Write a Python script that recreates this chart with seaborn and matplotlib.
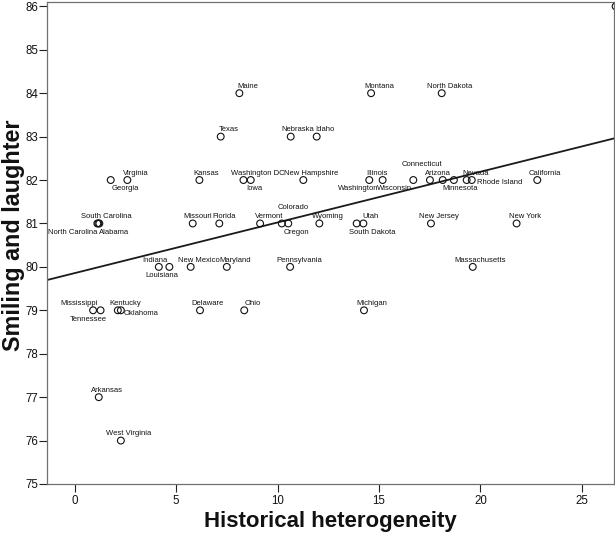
import matplotlib
matplotlib.use("Agg")
import matplotlib.pyplot as plt
import seaborn as sns
import pandas as pd

# ---------------- data ----------------
states = [
    "Maine", "Montana", "North Dakota",
    "Texas", "Nebraska", "Idaho",
    "Georgia", "Virginia", "Kansas", "Washington DC", "Iowa", "New Hampshire",
    "Washington", "Illinois", "Wisconsin", "Connecticut", "Arizona", "Minnesota",
    "Nevada", "Rhode Island", "California",
    "North Carolina", "South Carolina", "Alabama", "Missouri", "Florida", "Vermont",
    "Colorado", "Oregon", "Wyoming", "South Dakota", "Utah", "New Jersey", "New York",
    "Indiana", "Louisiana", "New Mexico", "Maryland", "Pennsylvania", "Massachusetts",
    "Mississippi", "Tennessee", "Kentucky", "Oklahoma", "Delaware", "Ohio", "Michigan",
    "Arkansas", "West Virginia",
]
heterogeneity = [
    8.12, 14.61, 18.09,
    7.20, 10.65, 11.93,
    1.78, 2.60, 6.15, 8.32, 8.68, 11.27,
    14.52, 15.18, 16.69, 17.51, 18.14, 18.69,
    19.32, 19.57, 22.80,
    1.12, 1.17, 1.22, 5.82, 7.13, 9.14,
    10.21, 10.53, 12.06, 13.90, 14.23, 17.56, 21.78,
    4.15, 4.67, 5.72, 7.50, 10.62, 19.62,
    0.91, 1.28, 2.13, 2.28, 6.18, 8.36, 14.26,
    1.19, 2.28,
]
smiling = [
    84, 84, 84,
    83, 83, 83,
    82, 82, 82, 82, 82, 82,
    82, 82, 82, 82, 82, 82,
    82, 82, 82,
    81, 81, 81, 81, 81, 81,
    81, 81, 81, 81, 81, 81, 81,
    80, 80, 80, 80, 80, 80,
    79, 79, 79, 79, 79, 79, 79,
    77, 76,
]
# unlabeled point clipped at the top-right corner
extra_x = [26.66]
extra_y = [86]

x_ticks = [0, 5, 10, 15, 20, 25]
y_ticks = [75, 76, 77, 78, 79, 80, 81, 82, 83, 84, 85, 86]

# ---------------- label layout (pixels: dx, placement) ----------------
label_layout = {
    "Maine": (8, "a"), "Montana": (8, "a"), "North Dakota": (8, "a"),
    "Texas": (8, "a"), "Nebraska": (7.5, "a"), "Idaho": (8, "a"),
    "Georgia": (15, "b"), "Virginia": (8.4, "a"), "Kansas": (7, "a"),
    "Washington DC": (14, "a"), "Iowa": (3.6, "b"), "New Hampshire": (7.7, "a"),
    "Washington": (-10.8, "b"), "Illinois": (-6, "a"), "Wisconsin": (-18.6, "b"),
    "Connecticut": (-7.8, "h"), "Arizona": (-4.5, "a"), "Minnesota": (6, "b"),
    "Nevada": (9.3, "a"), "Rhode Island": (5, "r"), "California": (7.7, "a"),
    "North Carolina": (0, "bl"), "South Carolina": (7.5, "a"), "Alabama": (0, "br"),
    "Missouri": (5, "a"), "Florida": (4.5, "a"), "Vermont": (8.8, "a"),
    "Colorado": (11, "h"), "Oregon": (8.5, "b"), "Wyoming": (8.2, "a"),
    "South Dakota": (15.3, "b"), "Utah": (7.5, "a"), "New Jersey": (8.2, "a"),
    "New York": (8.3, "a"),
    "Indiana": (-4, "a"), "Louisiana": (-7.6, "b"), "New Mexico": (8, "a"),
    "Maryland": (8.3, "a"), "Pennsylvania": (8.7, "a"), "Massachusetts": (7.8, "a"),
    "Mississippi": (-14, "a"), "Tennessee": (-12.5, "b"), "Kentucky": (7.6, "a"),
    "Oklahoma": (2.6, "r2"), "Delaware": (7.8, "a"), "Ohio": (8.5, "a"),
    "Michigan": (8.2, "a"), "Arkansas": (8.1, "a"), "West Virginia": (7.6, "a"),
}
placement = {
    "a": ("center", 5.3), "b": ("center", -10.2), "h": ("center", 14.5),
    "r": ("left", -3.6), "r2": ("left", -4.8),
    "bl": ("right", -10.2), "br": ("left", -10.2),
}

df = pd.DataFrame({"state": states, "x": heterogeneity, "y": smiling})
df_extra = pd.DataFrame({"x": extra_x, "y": extra_y})

sns.set_style("white")
plt.rcParams["font.family"] = ["Liberation Sans", "DejaVu Sans"]

W, H = 615, 536
fig = plt.figure(figsize=(W / 100, H / 100), dpi=100)
ax = fig.add_axes([47 / W, 1 - 484 / H, (614 - 47) / W, (484 - 2) / H])

ax.set_xlim(-1.36, 26.58)
ax.set_ylim(75, 86.1)

sns.regplot(data=df, x="x", y="y", ax=ax, scatter=False, ci=None,
            truncate=False, line_kws=dict(color="#1a1a1a", lw=1.3))
sns.scatterplot(data=df, x="x", y="y", ax=ax, s=24, facecolors="none",
                edgecolor="#111111", linewidth=0.8, zorder=3)
sns.scatterplot(data=df_extra, x="x", y="y", ax=ax, s=24, facecolors="none",
                edgecolor="#111111", linewidth=0.8, zorder=3, clip_on=True)

px2pt = 0.72
for st, xv, yv in zip(states, heterogeneity, smiling):
    dx, pos = label_layout[st]
    ha, dy = placement[pos]
    ax.annotate(st, (xv, yv), xytext=(dx * px2pt, dy * px2pt),
                textcoords="offset points", ha=ha, va="baseline",
                fontsize=5.5, color="#111111", zorder=4)

ax.set_xticks(x_ticks)
ax.set_yticks(y_ticks)
ax.set_xticklabels([str(t) for t in x_ticks])
ax.set_yticklabels([str(t) for t in y_ticks])
ax.tick_params(axis="both", which="major", direction="out", length=5.5,
               width=0.8, color="#222222", labelsize=8.3, labelcolor="#111111",
               bottom=True, left=True)
ax.tick_params(axis="y", pad=0.8)
ax.tick_params(axis="x", pad=2.5)

for sp in ax.spines.values():
    sp.set_color("#707070")
    sp.set_linewidth(0.9)

ax.set_xlabel("Historical heterogeneity", fontsize=16, fontweight="bold",
              color="#111111")
ax.set_ylabel("Smiling and laughter", fontsize=16.8, fontweight="bold",
              color="#111111")
ax.xaxis.set_label_coords(0.5, -0.055)
ax.yaxis.set_label_coords(-0.039, 0.517)

fig.savefig("out.png", dpi=100)
